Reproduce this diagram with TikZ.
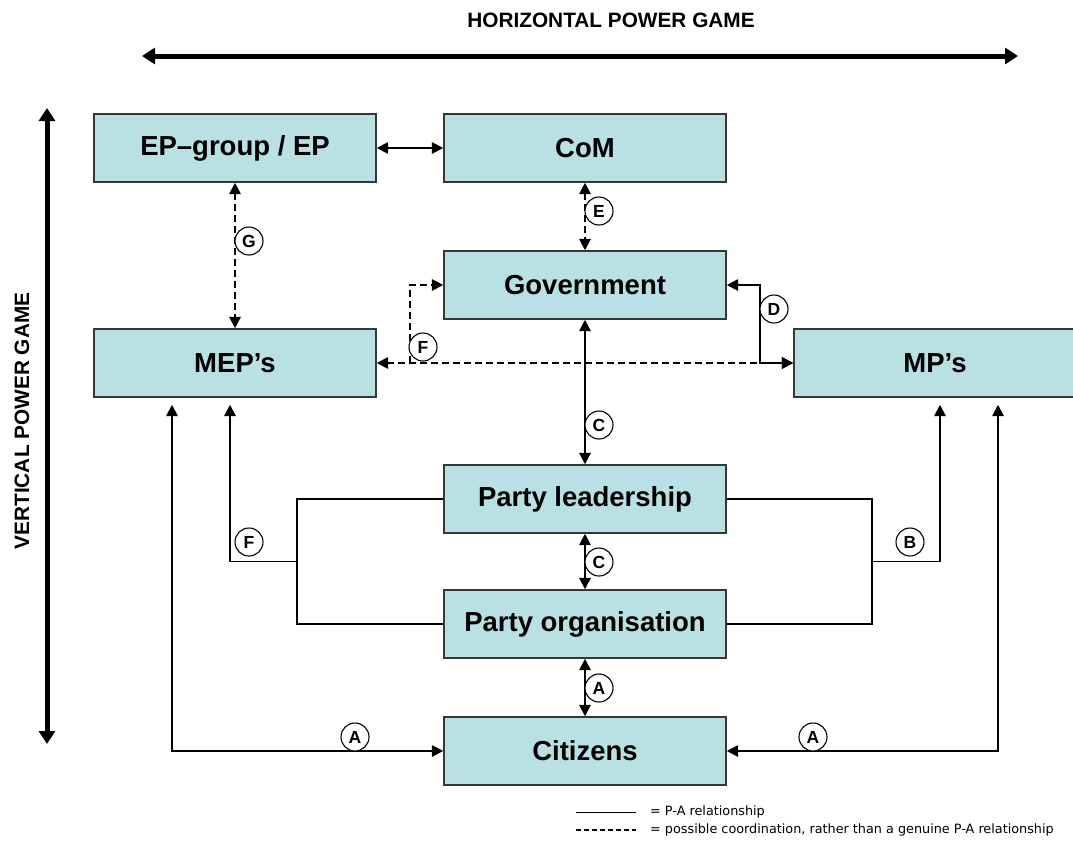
\documentclass[tikz,border=0pt]{standalone}
\usepackage{fontspec}
\setmainfont{Liberation Sans}
\newfontfamily\legendfont{DejaVu Sans}
\usetikzlibrary{arrows.meta,calc}
\definecolor{boxfill}{RGB}{185,224,227}
\definecolor{boxline}{RGB}{55,55,55}
\begin{document}
\begin{tikzpicture}[x=1pt,y=-1pt,
  >={Triangle[length=11.5pt,width=11pt]},
  box/.style={draw=boxline, line width=1.2pt, fill=boxfill, minimum width=282pt,
    minimum height=68pt, inner sep=0pt, font=\fontsize{27.5}{32}\selectfont\bfseries},
  lbl/.style={circle, draw, line width=1.1pt, fill=white, minimum size=28pt, inner sep=0pt,
    font=\fontsize{17.5}{18}\selectfont\bfseries},
  conn/.style={line width=2.8pt},
  dconn/.style={line width=2.8pt, dash pattern=on 7pt off 4pt},
  pa/.style={line width=1.2pt},
  bigarrow/.style={line width=5pt, {Triangle[length=13pt,width=16pt]}-{Triangle[length=13pt,width=16pt]}},
  legend/.style={anchor=west, inner sep=0pt, font=\legendfont\fontsize{12.8}{14}\selectfont},
  title/.style={font=\fontsize{20.8}{24}\selectfont\bfseries, inner sep=0pt}
]
\clip (0,0) rectangle (1073,841);
\fill[white] (0,0) rectangle (1073,841);

% titles and power-game arrows
\node[title] (ht) at (611,20) {HORIZONTAL POWER GAME};
\coordinate (hl) at (142,56);
\coordinate (hr) at (1018,56);
\draw[bigarrow] (hl) -- (hr);
\node[title, rotate=90] (vt) at (22,421) {VERTICAL POWER GAME};
\coordinate (vtop) at (47,108);
\coordinate (vbot) at (47,744);
\draw[bigarrow] (vtop) -- (vbot);

% boxes
\node[box] (ep)  at (235,148) {EP–group / EP};
\node[box] (com) at (585,148) {CoM};
\node[box] (gov) at (585,285) {Government};
\node[box] (mep) at (235,363) {MEP’s};
\node[box] (mp)  at (935,363) {MP’s};
\node[box] (pl)  at (585,499) {Party leadership};
\node[box] (po)  at (585,624) {Party organisation};
\node[box] (cit) at (585,751) {Citizens};

% helper x positions
\coordinate (dx) at (760,0);
\coordinate (fx) at (410,0);
\coordinate (lb) at (297,0);
\coordinate (rb) at (872,0);
\coordinate (mx) at (230,0);
\coordinate (px) at (940,0);
\coordinate (ax) at (172,0);
\coordinate (bx) at (998,0);

% top connectors
\draw[conn,<->] (ep) -- (com);
\draw[dconn,<->] (ep.south) -- (mep.north);
\draw[dconn,<->] (com.south) -- (gov.north);

% F dashed coordination
\draw[dconn,<->] (mep.east) -- (mp.west);
\draw[dconn,->] (mep.east -| fx) |- (gov.west);

% D
\draw[conn,<->] (gov.east) -- (gov.east -| dx) |- (mp.west);

% C, C, A vertical
\draw[conn,<->] (gov.south) -- (pl.north);
\draw[conn,<->] (pl.south) -- (po.north);
\draw[conn,<->] (po.south) -- (cit.north);

% left bracket (F)
\draw[pa] (pl.west) -- (pl.west -| lb) -- (po.west -| lb) -- (po.west);
\coordinate (lm) at ($(pl.west -| lb)!0.5!(po.west -| lb)$);
\draw[pa] (lm) -- (lm -| mx);
\draw[conn,->,shorten >=7pt] (lm -| mx) -- (mep.south -| mx);

% right bracket (B)
\draw[pa] (pl.east) -- (pl.east -| rb) -- (po.east -| rb) -- (po.east);
\coordinate (rm) at ($(pl.east -| rb)!0.5!(po.east -| rb)$);
\draw[pa] (rm) -- (rm -| px);
\draw[conn,->,shorten >=7pt] (rm -| px) -- (mp.south -| px);

% A outer loops
\draw[conn,<->,shorten <=7pt] (mep.south -| ax) |- (cit.west);
\draw[conn,<->,shorten <=7pt] (mp.south -| bx) |- (cit.east);

% labels
\node[lbl] (lG)  at (249,241) {G};
\node[lbl] (lE)  at (599,211) {E};
\node[lbl] (lD)  at (774,309) {D};
\node[lbl] (lF1) at (423,347) {F};
\node[lbl] (lC1) at (599,425) {C};
\node[lbl] (lC2) at (599,562) {C};
\node[lbl] (lA1) at (599,688) {A};
\node[lbl] (lF2) at (249,542) {F};
\node[lbl] (lB)  at (910,542) {B};
\node[lbl] (lA2) at (355,737) {A};
\node[lbl] (lA3) at (813,737) {A};

% legend
\coordinate (l1a) at (576,812);
\coordinate (l1b) at (636,812);
\coordinate (l2a) at (576,830);
\coordinate (l2b) at (636,830);
\draw[line width=1pt] (l1a) -- (l1b);
\draw[line width=2pt, dash pattern=on 5pt off 3pt] (l2a) -- (l2b);
\node[legend] (t1) at (650,812) {= P-A relationship};
\node[legend] (t2) at (650,830) {= possible coordination, rather than a genuine P-A relationship};
\end{tikzpicture}
\end{document}
